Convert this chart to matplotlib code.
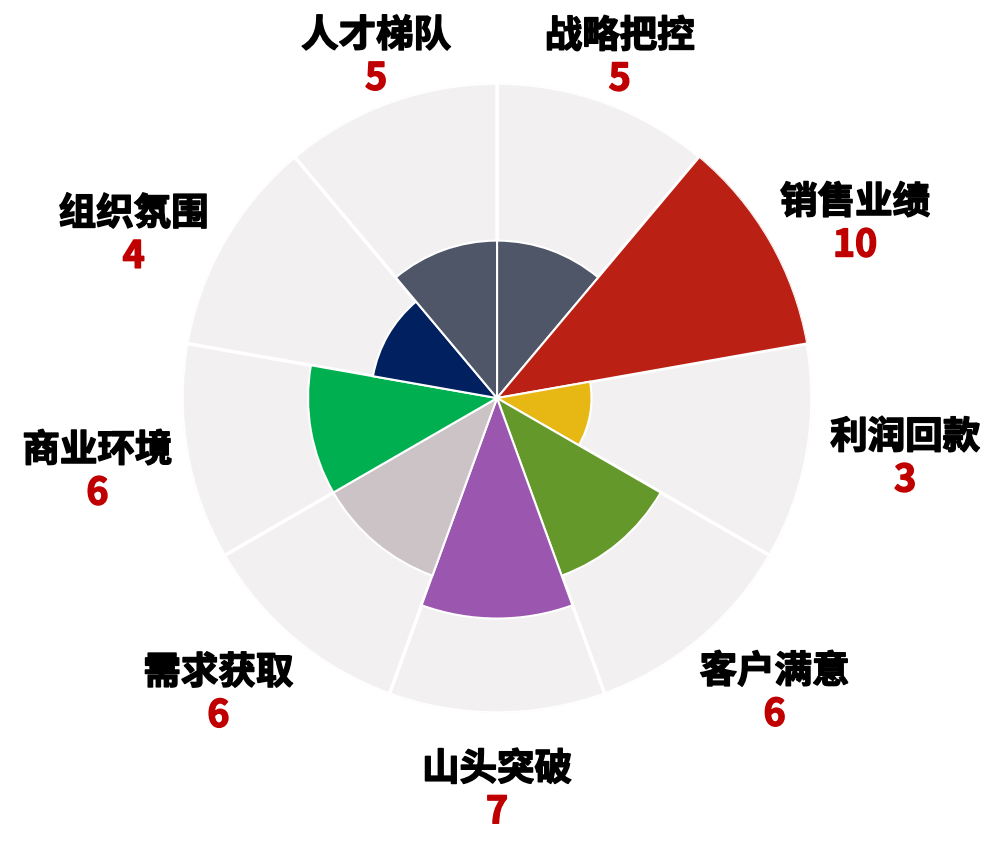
import numpy as np
import matplotlib.pyplot as plt
import matplotlib.patheffects as pe

plt.rcParams['font.family'] = ['Noto Sans CJK SC', 'DejaVu Sans']

# data, clockwise from 12 o'clock
categories = ['战略把控', '销售业绩', '利润回款', '客户满意', '山头突破',
              '需求获取', '商业环境', '组织氛围', '人才梯队']
scores = [5, 10, 3, 6, 7, 6, 6, 4, 5]
max_score = 10

colors = ['#4F5668', '#BA2114', '#E7B814', '#65982B', '#9B57B0',
          '#CBC3C6', '#00B050', '#002060', '#4F5668']
# label radius (data units) and small angle nudges (deg), tuned by eye
label_r = [11.5, 12.65, 13.1, 12.85, 12.45, 12.9, 12.9, 12.65, 11.5]
label_nudge = [-0.2, 4, -1.6, -3.3, 0, 3.3, -0.4, -5.8, 0.5]

n = len(categories)
width = 2 * np.pi / n
theta = np.arange(n) * width + width / 2

fig = plt.figure(figsize=(10.04, 8.57), dpi=100)
ax = fig.add_axes([0.1813, 0.168, 0.6275, 0.735], projection='polar')
ax.set_theta_zero_location('N')
ax.set_theta_direction(-1)

# grey background wedges
ax.bar(theta, [max_score] * n, width=width, color='#F2F0F1',
       edgecolor='white', linewidth=2.5, zorder=1)
# score wedges
ax.bar(theta, scores, width=width, color=colors,
       edgecolor='white', linewidth=1.5, zorder=2)

ax.set_ylim(0, max_score)
ax.set_axis_off()

# thicken glyphs a bit, the original uses a heavier font
bold_black = [pe.withStroke(linewidth=1.1, foreground='black')]
bold_red = [pe.withStroke(linewidth=1.1, foreground='#C00000')]

for i in range(n):
    t = theta[i] + np.deg2rad(label_nudge[i])
    ax.annotate(categories[i], xy=(t, label_r[i]), xytext=(0, 15.5),
                textcoords='offset points', ha='center', va='center',
                fontsize=27, fontweight='bold', color='black',
                path_effects=bold_black, annotation_clip=False)
    ax.annotate(str(scores[i]), xy=(t, label_r[i]), xytext=(0, -15.5),
                textcoords='offset points', ha='center', va='center',
                fontsize=27, fontweight='bold', color='#C00000',
                path_effects=bold_red, annotation_clip=False)

fig.savefig('out.png', dpi=100, facecolor='white')
